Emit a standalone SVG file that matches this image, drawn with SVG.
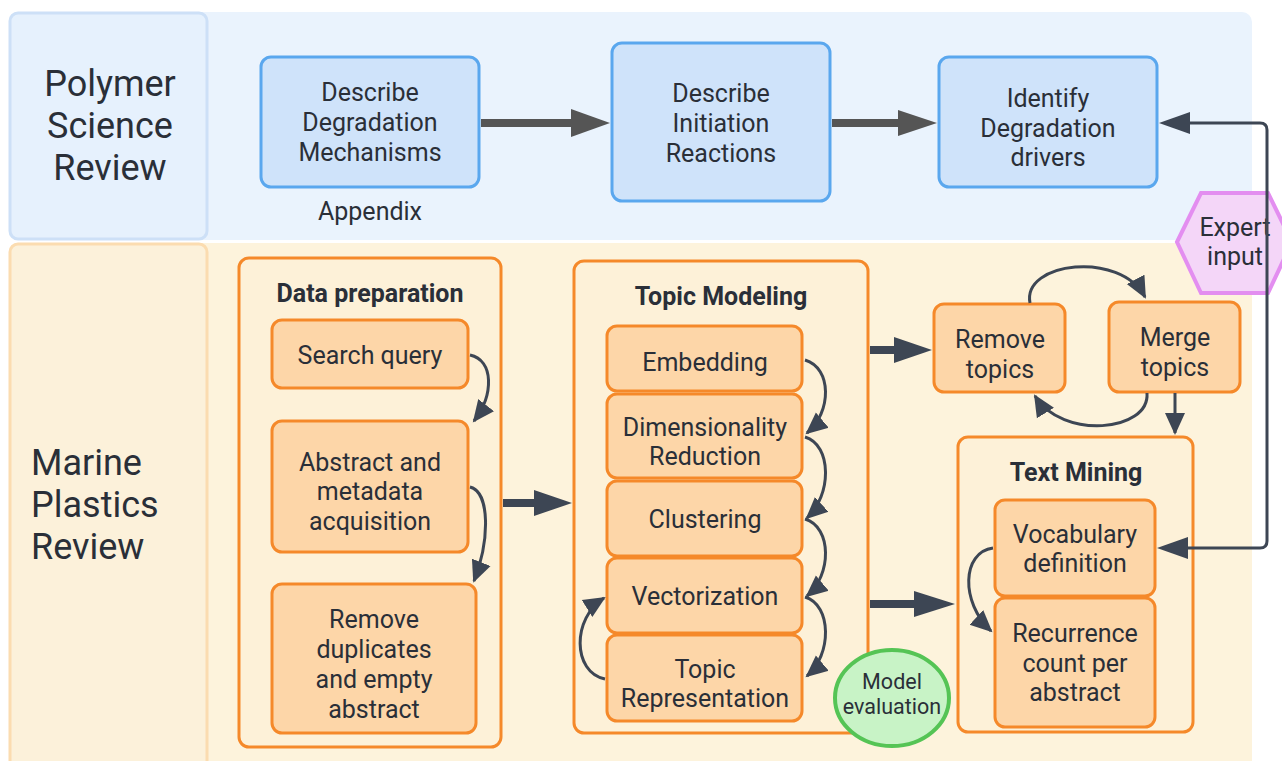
<svg xmlns="http://www.w3.org/2000/svg" width="1282" height="761" viewBox="0 0 1282 761">
<style>
text{font-family:Roboto,"Liberation Sans",sans-serif;fill:#2a2f38;text-anchor:middle}
.lane{font-size:36px}
.bt{font-size:25px}
.st{font-size:25px}
.title{font-size:25px;font-weight:bold}
.blue{fill:#cfe3fa;stroke:#5aa7ee;stroke-width:3}
.org{fill:#fdd6a8;stroke:#f5892a;stroke-width:3}
.cont{fill:#fdf1d8;stroke:#f5892a;stroke-width:3}
.thin{fill:none;stroke:#3d4654;stroke-width:3}
.thick{stroke:#3d4654;stroke-width:8}
.gthick{stroke:#555;stroke-width:8}
</style>
<defs>
<marker id="ah" markerUnits="userSpaceOnUse" markerWidth="24" markerHeight="22" refX="20" refY="10" orient="auto" viewBox="0 0 24 20">
<path d="M0,0 L22,10 L0,20 Z" fill="#3d4654"/>
</marker>
</defs>
<!-- lanes -->
<rect x="10" y="12" width="1242" height="228" rx="10" fill="#eaf3fd"/>
<rect x="10" y="243" width="1242" height="530" rx="10" fill="#fdf3dc"/>
<g id="lane-polymer">
<rect x="10" y="13" width="197" height="226" rx="8" fill="#e6f1fd" stroke="#cde0f7" stroke-width="3"/>
<text class="lane" x="110" y="96">Polymer</text>
<text class="lane" x="110" y="138">Science</text>
<text class="lane" x="110" y="180">Review</text>
</g>
<g id="lane-marine">
<rect x="10" y="244" width="197" height="530" rx="8" fill="#fcf1da" stroke="#fbdcb0" stroke-width="3"/>
<text class="lane" x="31" y="475" style="text-anchor:start">Marine</text>
<text class="lane" x="31" y="517" style="text-anchor:start">Plastics</text>
<text class="lane" x="31" y="559" style="text-anchor:start">Review</text>
</g>
<!-- top nodes -->
<g id="n-describe-deg">
<rect class="blue" x="261" y="57" width="218" height="130" rx="10"/>
<text class="bt" x="370" y="101">Describe</text>
<text class="bt" x="370" y="131">Degradation</text>
<text class="bt" x="370" y="161">Mechanisms</text>
</g>
<text class="bt" x="370" y="220">Appendix</text>
<g id="n-describe-init">
<rect class="blue" x="612" y="43" width="218" height="158" rx="10"/>
<text class="bt" x="721" y="102">Describe</text>
<text class="bt" x="721" y="132">Initiation</text>
<text class="bt" x="721" y="162">Reactions</text>
</g>
<g id="n-identify">
<rect class="blue" x="939" y="57" width="218" height="130" rx="10"/>
<text class="bt" x="1048" y="107">Identify</text>
<text class="bt" x="1048" y="137">Degradation</text>
<text class="bt" x="1048" y="166">drivers</text>
</g>
<g id="n-expert">
<polygon points="1177,242 1201,193 1268,193 1292,242 1268,293 1201,293" fill="#f4d6f8" stroke="#e38ef0" stroke-width="4"/>
<text class="bt" x="1235" y="236">Expert</text>
<text class="bt" x="1235" y="265">input</text>
</g>
<!-- data preparation -->
<g id="c-dataprep">
<rect class="cont" x="239" y="258" width="262" height="489" rx="10"/>
<text class="title" x="370" y="302">Data preparation</text>
</g>
<g id="n-search">
<rect class="org" x="272" y="320" width="196" height="68" rx="10"/>
<text class="st" x="370" y="364">Search query</text>
</g>
<g id="n-abstract">
<rect class="org" x="272" y="421" width="196" height="131" rx="10"/>
<text class="st" x="370" y="471">Abstract and</text>
<text class="st" x="370" y="500">metadata</text>
<text class="st" x="370" y="530">acquisition</text>
</g>
<g id="n-remove-dup">
<rect class="org" x="272" y="584" width="204" height="149" rx="10"/>
<text class="st" x="374" y="628">Remove</text>
<text class="st" x="374" y="658">duplicates</text>
<text class="st" x="374" y="688">and empty</text>
<text class="st" x="374" y="718">abstract</text>
</g>
<!-- topic modeling -->
<g id="c-topic">
<rect class="cont" x="574" y="261" width="294" height="472" rx="10"/>
<text class="title" x="721" y="305">Topic Modeling</text>
</g>
<g id="n-embedding">
<rect class="org" x="607" y="326" width="195" height="65" rx="10"/>
<text class="st" x="705" y="371">Embedding</text>
</g>
<g id="n-dimred">
<rect class="org" x="607" y="394" width="195" height="84" rx="10"/>
<text class="st" x="705" y="436">Dimensionality</text>
<text class="st" x="705" y="465">Reduction</text>
</g>
<g id="n-clustering">
<rect class="org" x="607" y="481" width="195" height="75" rx="10"/>
<text class="st" x="705" y="528">Clustering</text>
</g>
<g id="n-vector">
<rect class="org" x="607" y="558" width="195" height="75" rx="10"/>
<text class="st" x="705" y="605">Vectorization</text>
</g>
<g id="n-topicrep">
<rect class="org" x="607" y="635" width="195" height="86" rx="10"/>
<text class="st" x="705" y="678">Topic</text>
<text class="st" x="705" y="707">Representation</text>
</g>
<g id="n-model-eval">
<ellipse cx="892" cy="698" rx="57" ry="48" fill="#c8f3c6" stroke="#55c455" stroke-width="4"/>
<text x="892" y="689" style="font-size:21.5px">Model</text>
<text x="892" y="714" style="font-size:21.5px">evaluation</text>
</g>
<!-- remove / merge -->
<g id="n-remove-topics">
<rect class="org" x="934" y="304" width="131" height="88" rx="10"/>
<text class="st" x="1000" y="348">Remove</text>
<text class="st" x="1000" y="378">topics</text>
</g>
<g id="n-merge-topics">
<rect class="org" x="1109" y="302" width="131" height="90" rx="10"/>
<text class="st" x="1175" y="346">Merge</text>
<text class="st" x="1175" y="376">topics</text>
</g>
<!-- text mining -->
<g id="c-textmining">
<rect class="cont" x="958" y="437" width="235" height="295" rx="10"/>
<text class="title" x="1076" y="481">Text Mining</text>
</g>
<g id="n-vocab">
<rect class="org" x="995" y="500" width="160" height="96" rx="10"/>
<text class="st" x="1075" y="543">Vocabulary</text>
<text class="st" x="1075" y="572">definition</text>
</g>
<g id="n-recurrence">
<rect class="org" x="995" y="598" width="160" height="129" rx="10"/>
<text class="st" x="1075" y="642">Recurrence</text>
<text class="st" x="1075" y="672">count per</text>
<text class="st" x="1075" y="701">abstract</text>
</g>
<!-- connectors -->
<g id="connectors">
<line class="gthick" x1="481" y1="123" x2="575" y2="123"/>
<polygon points="571,109 610,123 571,137" fill="#555"/>
<line class="gthick" x1="832" y1="123" x2="902" y2="123"/>
<polygon points="898,110 937,123 898,136" fill="#555"/>
<path class="thin" d="M1188,123 H1260 Q1267,123 1267,130 V541 Q1267,548 1260,548 H1188"/>
<polygon points="1159,123 1190,112 1190,134" fill="#3d4654"/>
<polygon points="1157,548 1188,537 1188,559" fill="#3d4654"/>
<line class="thick" x1="503" y1="503" x2="538" y2="503"/>
<polygon points="534,490 572,503 534,516" fill="#3d4654"/>
<line class="thick" x1="870" y1="350" x2="898" y2="350"/>
<polygon points="894,337 932,350 894,363" fill="#3d4654"/>
<line class="thick" x1="870" y1="604" x2="918" y2="604"/>
<polygon points="914,591 955,604 914,617" fill="#3d4654"/>
<path class="thin" d="M470,355 C494,360 494,395 474,421" marker-end="url(#ah)"/>
<path class="thin" d="M470,487 C490,492 490,540 474,581" marker-end="url(#ah)"/>
<path class="thin" d="M805,360 C832,368 832,412 807,433" marker-end="url(#ah)"/>
<path class="thin" d="M805,437 C832,445 832,495 807,518" marker-end="url(#ah)"/>
<path class="thin" d="M805,519 C832,527 832,575 807,596" marker-end="url(#ah)"/>
<path class="thin" d="M805,597 C832,605 832,655 807,676" marker-end="url(#ah)"/>
<path class="thin" d="M605,679 C572,672 572,618 604,598" marker-end="url(#ah)"/>
<path class="thin" d="M1030,303 C1022,262 1120,250 1145,297" marker-end="url(#ah)"/>
<path class="thin" d="M1147,393 C1150,432 1062,440 1035,396" marker-end="url(#ah)"/>
<path class="thin" d="M1175,393 V433" marker-end="url(#ah)"/>
<path class="thin" d="M993,548 C962,552 960,602 991,631" marker-end="url(#ah)"/>
</g>
</svg>
